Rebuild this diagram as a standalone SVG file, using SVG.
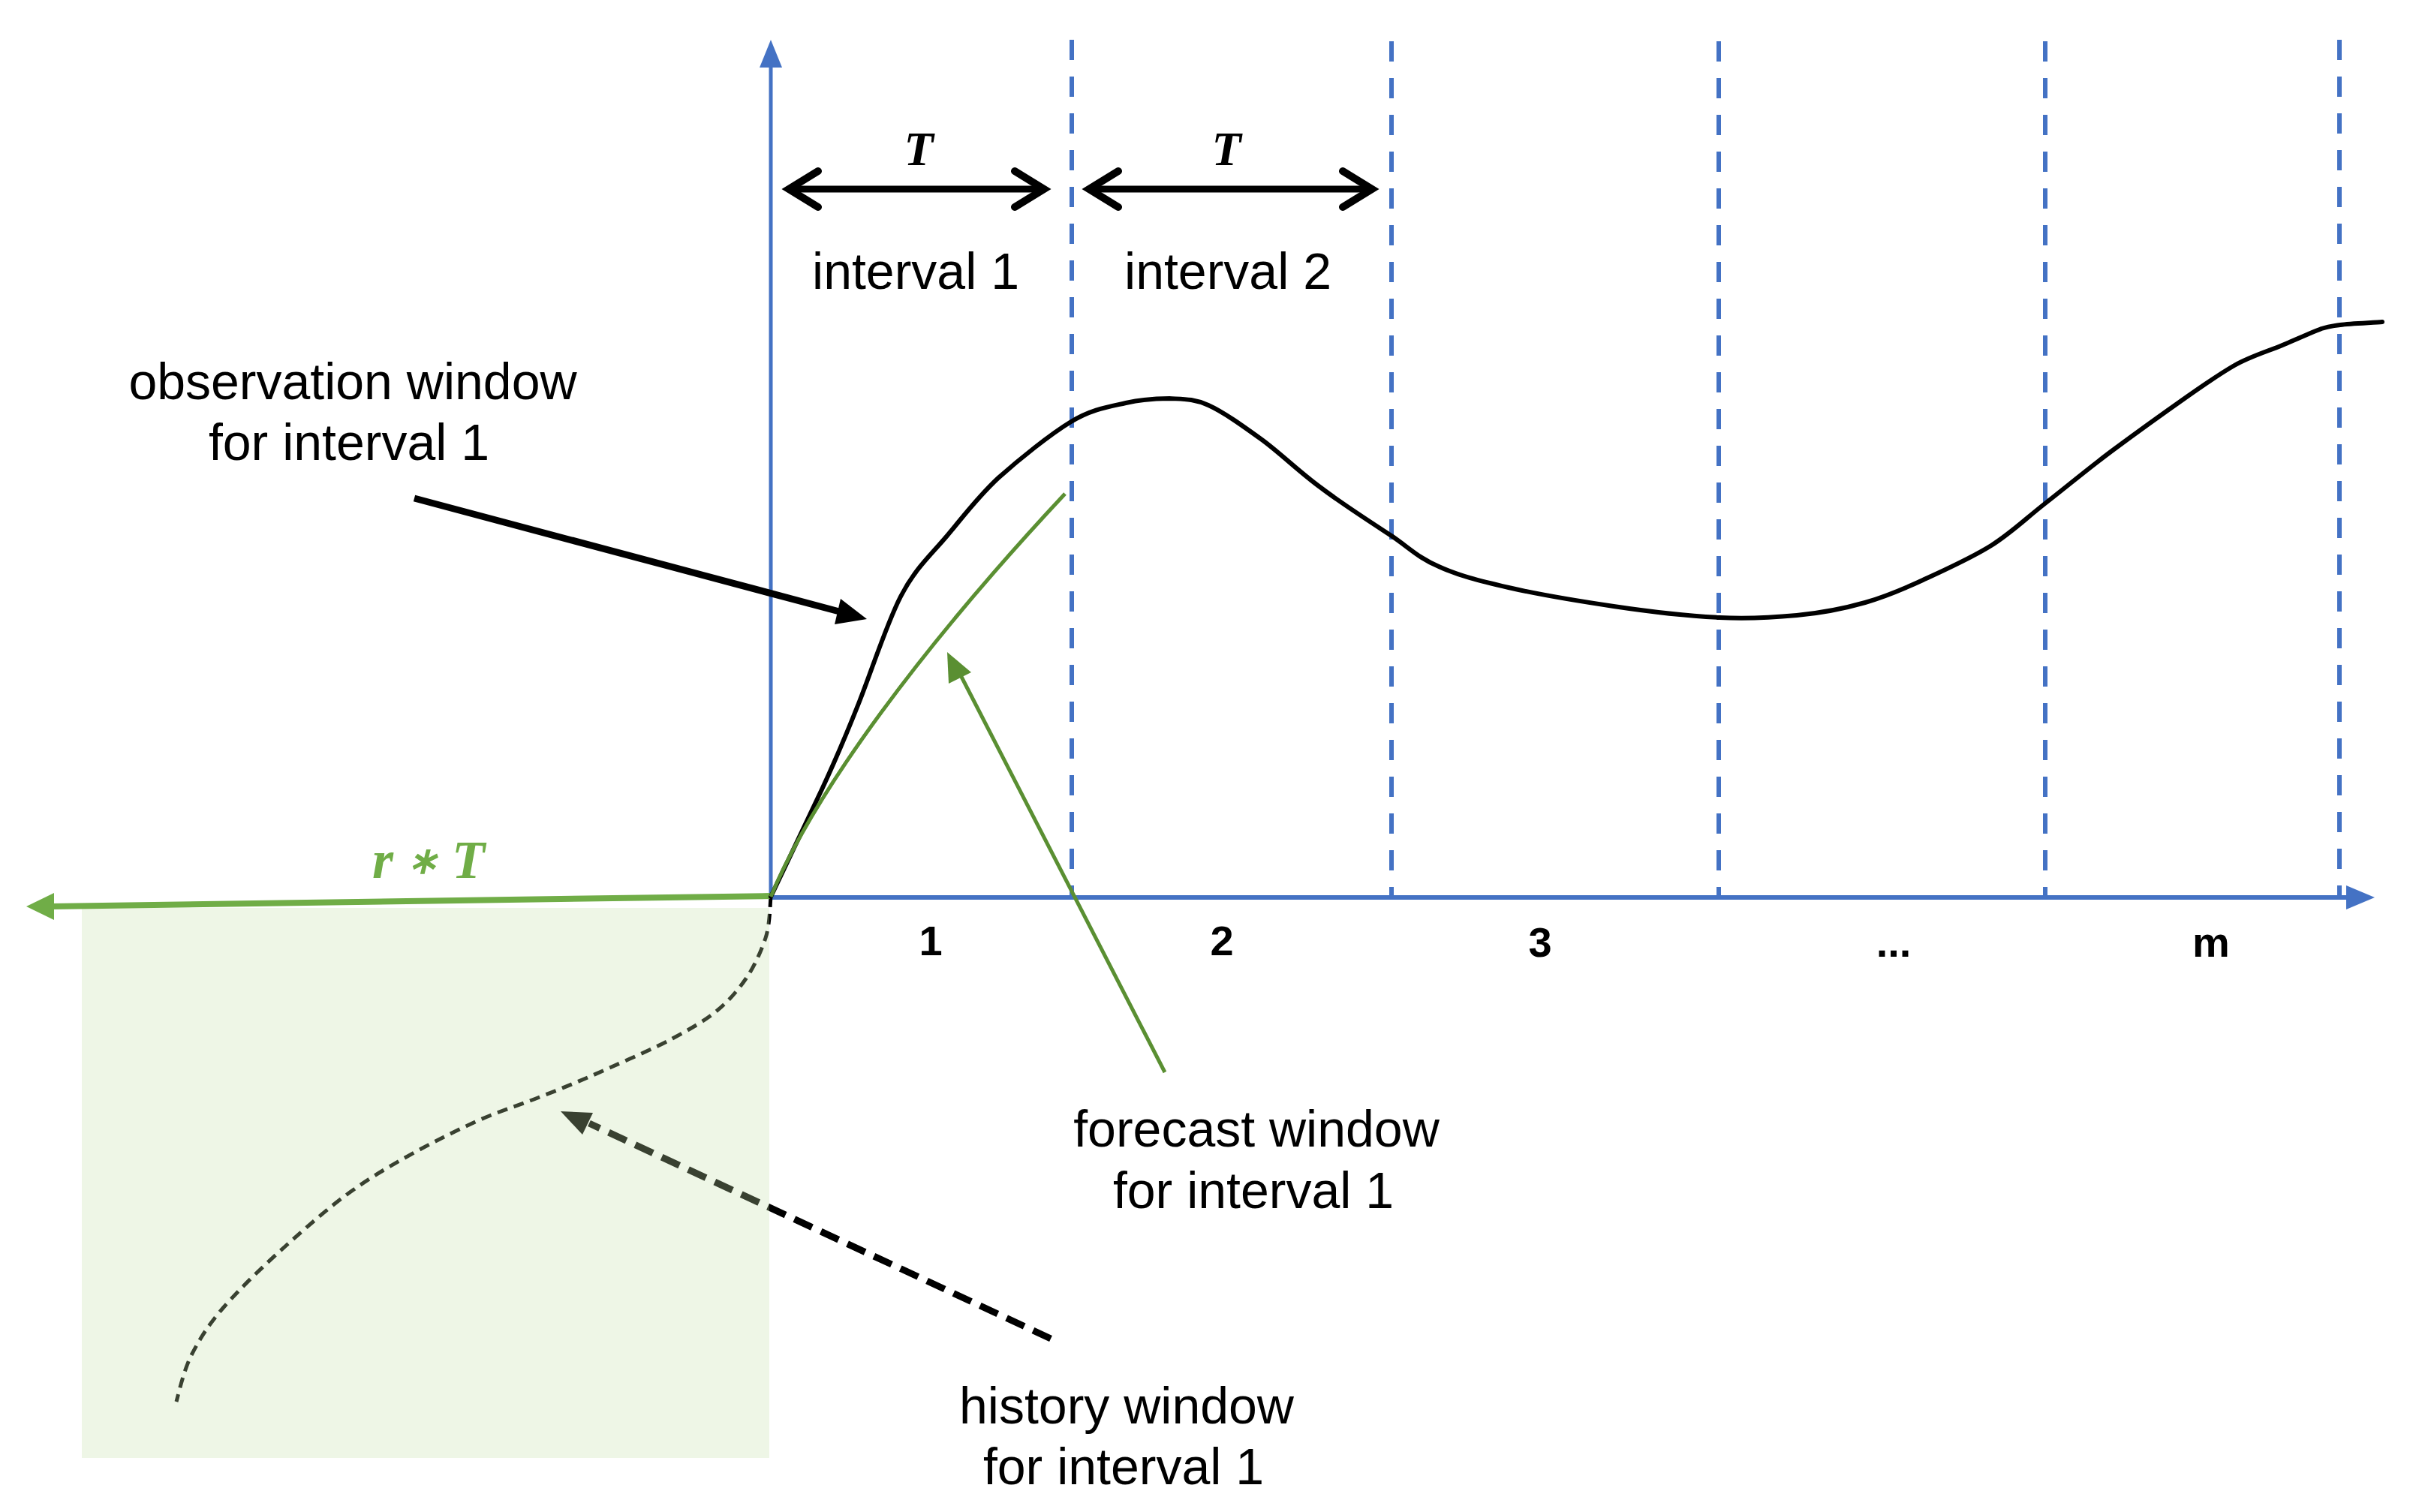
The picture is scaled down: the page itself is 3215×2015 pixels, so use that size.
<svg xmlns="http://www.w3.org/2000/svg" width="3215" height="2015" viewBox="0 0 3215 2015">
<style>
.lbl{font-family:"Liberation Sans",Arial,sans-serif;font-size:68px;fill:#000;text-anchor:middle}
.num{font-family:"Liberation Sans",Arial,sans-serif;font-size:56px;font-weight:bold;fill:#000;text-anchor:middle}
.math{font-family:"Liberation Serif","Times New Roman",serif;font-style:italic;font-weight:bold;text-anchor:middle}
.grid{stroke:#4472C4;stroke-width:6;stroke-dasharray:27 22;fill:none}
.axis{stroke:#4472C4;fill:none}
</style>
<rect width="3215" height="2015" fill="#fff"/>
<g id="grid">
<line class="grid" x1="1428" y1="53" x2="1428" y2="1196"/>
<line class="grid" x1="1854" y1="55" x2="1854" y2="1196"/>
<line class="grid" x1="2290" y1="55" x2="2290" y2="1196"/>
<line class="grid" x1="2725" y1="55" x2="2725" y2="1196"/>
<line class="grid" x1="3117" y1="53" x2="3117" y2="1196"/>
</g>
<g id="axes">
<line class="axis" stroke-width="5" x1="1027" y1="1196" x2="1027" y2="86"/>
<polygon fill="#4472C4" points="1027,53 1012,90 1042,90"/>
<line class="axis" stroke-width="6" x1="1027" y1="1196" x2="3130" y2="1196"/>
<polygon fill="#4472C4" points="3164,1196 3126,1180 3126,1212"/>
</g>
<g id="history-curve">
<path fill="none" stroke="#000" stroke-width="5" stroke-dasharray="14 9" d="M1027,1195 C1026,1204 1026,1232 1020,1250 C1014,1268 1005,1288 994,1304 C983,1320 970,1335 954,1348 C938,1361 920,1371 896,1384 C872,1397 839,1411 810,1424 C781,1437 753,1449 724,1460 C695,1472 667,1480 638,1493 C609,1506 581,1520 552,1536 C523,1552 495,1568 466,1589 C437,1610 408,1636 380,1661 C352,1686 320,1717 299,1741 C278,1765 267,1783 256,1804 C245,1825 238,1857 235,1868"/>
</g>
<g id="connectors">
<g id="history-arrow">
<line x1="1400" y1="1784" x2="785" y2="1497" stroke="#000" stroke-width="9" stroke-dasharray="26 13"/>
<polygon fill="#000" points="747,1481 790,1483 776,1512"/>
</g>
</g>
<rect id="history-window" x="109" y="1210" width="916" height="733" fill="#C4E0A8" fill-opacity="0.29"/>
<g id="rT-arrow">
<line x1="1027" y1="1194" x2="68" y2="1208" stroke="#70AD47" stroke-width="8"/>
<polygon fill="#70AD47" points="35,1208 72,1190 72,1226"/>
<text class="math" x="571" y="1170" font-size="72" fill="#70AD47">r <tspan font-size="50" dy="-6">∗</tspan><tspan dy="6"> T</tspan></text>
</g>
<g id="series">
<path fill="none" stroke="#000" stroke-width="6" stroke-linecap="round" d="M1027,1195 C1038,1171 1075,1095 1095,1052 C1115,1009 1128,978 1145,935 C1162,892 1181,832 1200,795 C1219,758 1239,741 1261,715 C1283,689 1302,663 1330,637 C1358,612 1399,579 1427,562 C1455,545 1478,542 1500,537 C1522,532 1540,531 1558,531 C1576,532 1590,531 1610,540 C1630,549 1655,567 1680,585 C1705,603 1731,629 1760,650 C1789,672 1828,697 1854,714 C1880,732 1891,744 1917,755 C1943,767 1971,774 2010,783 C2049,792 2103,801 2150,808 C2197,815 2250,821 2291,823 C2332,825 2362,823 2394,820 C2426,817 2457,811 2485,803 C2513,795 2534,786 2562,773 C2590,760 2626,744 2653,727 C2680,710 2699,691 2726,670 C2753,649 2784,623 2815,600 C2846,577 2885,549 2912,530 C2939,511 2956,499 2977,487 C2998,475 3022,468 3041,460 C3060,452 3080,443 3093,438 C3106,434 3105,435 3118,433 C3132,431 3165,430 3174,429"/>
<path id="forecast-curve" fill="none" stroke="#5A8F32" stroke-width="5" d="M1027,1195 C1085,1055 1230,860 1419,658"/>
</g>
<g id="obs-arrow">
<line x1="552" y1="664" x2="1122" y2="816" stroke="#000" stroke-width="9"/>
<polygon fill="#000" points="1155,825 1112,832 1120,798"/>
</g>
<g id="forecast-arrow">
<line x1="1552" y1="1429" x2="1280" y2="900" stroke="#5A8F32" stroke-width="5"/>
<polygon fill="#5A8F32" points="1262,869 1294,896 1264,911"/>
</g>
<g id="interval1">
<line x1="1054" y1="252" x2="1388" y2="252" stroke="#000" stroke-width="9"/>
<polyline fill="none" stroke="#000" stroke-width="10" stroke-linecap="round" points="1090,228 1051,252 1090,276"/>
<polyline fill="none" stroke="#000" stroke-width="10" stroke-linecap="round" points="1352,228 1391,252 1352,276"/>
<text class="math" x="1224" y="220" font-size="64" fill="#000">T</text>
<text class="lbl" x="1220" y="385">interval 1</text>
</g>
<g id="interval2">
<line x1="1454" y1="252" x2="1824" y2="252" stroke="#000" stroke-width="9"/>
<polyline fill="none" stroke="#000" stroke-width="10" stroke-linecap="round" points="1490,228 1451,252 1490,276"/>
<polyline fill="none" stroke="#000" stroke-width="10" stroke-linecap="round" points="1789,228 1828,252 1789,276"/>
<text class="math" x="1634" y="220" font-size="64" fill="#000">T</text>
<text class="lbl" x="1636" y="385">interval 2</text>
</g>
<g id="obs-label">
<text class="lbl" x="470" y="532">observation window</text>
<text class="lbl" x="465" y="613">for interval 1</text>
</g>
<g id="forecast-label">
<text class="lbl" x="1674" y="1528">forecast window</text>
<text class="lbl" x="1670" y="1610">for interval 1</text>
</g>
<g id="history-label">
<text class="lbl" x="1501" y="1897">history window</text>
<text class="lbl" x="1497" y="1978">for interval 1</text>
</g>
<g id="ticks">
<text class="num" x="1240" y="1273">1</text>
<text class="num" x="1628" y="1273">2</text>
<text class="num" x="2052" y="1275">3</text>
<text class="num" x="2523" y="1275">...</text>
<text class="num" x="2946" y="1275">m</text>
</g>
</svg>
